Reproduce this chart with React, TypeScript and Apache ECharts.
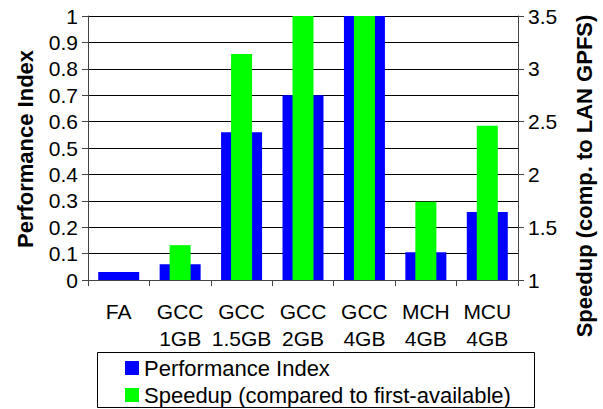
import React, { useEffect, useRef } from "react";
import * as echarts from "echarts";

const categories = ["FA", "GCC\n1GB", "GCC\n1.5GB", "GCC\n2GB", "GCC\n4GB", "MCH\n4GB", "MCU\n4GB"];
const performanceIndex = [0.03, 0.06, 0.56, 0.70, 1.0, 0.105, 0.258];
const speedup = [1.0, 1.33, 3.14, 3.5, 3.51, 1.74, 2.46];
const seriesNames = ["Performance Index", "Speedup (compared to first-available)"];

const FONT = "'Liberation Sans', Arial, sans-serif";

export default function App() {
  const ref = useRef<HTMLDivElement>(null);
  useEffect(() => {
    if (!ref.current) return;
    const chart = echarts.init(ref.current, null, { renderer: "svg" });
    const axisLine = { show: true, lineStyle: { color: "#444", width: 1 } };
    const axisTick = { show: true, length: 6, lineStyle: { color: "#444" } };
    chart.setOption({
      animation: false,
      backgroundColor: "#fff",
      textStyle: { fontFamily: FONT },
      grid: { left: 88, right: 85, top: 16, bottom: 129, containLabel: false },
      legend: {
        data: seriesNames,
        orient: "vertical",
        left: 125,
        top: 357,
        itemWidth: 14,
        itemHeight: 14,
        itemGap: 5,
        icon: "rect",
        padding: 0,
        textStyle: { fontSize: 22, color: "#000", fontFamily: FONT },
      },
      xAxis: [
        {
          type: "category",
          data: categories,
          axisLine,
          axisTick,
          axisLabel: {
            fontSize: 21,
            lineHeight: 27,
            margin: 18,
            color: "#000",
            fontFamily: FONT,
            interval: 0,
            verticalAlign: "top",
          },
        },
        { type: "category", data: categories, show: false },
      ],
      yAxis: [
        {
          type: "value",
          min: 0,
          max: 1,
          interval: 0.1,
          axisLine,
          axisTick,
          axisLabel: { fontSize: 21, margin: 10, color: "#000", fontFamily: FONT },
          splitLine: { show: true, lineStyle: { color: "#000", width: 1 } },
        },
        {
          type: "value",
          position: "right",
          min: 1,
          max: 3.5,
          interval: 0.5,
          startValue: 1,
          axisLine,
          axisTick,
          axisLabel: { fontSize: 21, margin: 10, color: "#000", fontFamily: FONT },
          splitLine: { show: false },
        },
      ],
      graphic: [
        {
          type: "rect",
          shape: { x: 97.5, y: 352.5, width: 437, height: 55 },
          style: { fill: "none", stroke: "#000", lineWidth: 1 },
          z: 0,
        },
        {
          type: "text",
          x: 25,
          y: 149,
          rotation: Math.PI / 2,
          style: {
            text: "Performance Index",
            font: `bold 22px ${FONT}`,
            fill: "#000",
            textAlign: "center",
            textVerticalAlign: "middle",
          },
        },
        {
          type: "text",
          x: 584,
          y: 176,
          rotation: Math.PI / 2,
          style: {
            text: "Speedup (comp. to LAN GPFS)",
            font: `bold 22px ${FONT}`,
            fill: "#000",
            textAlign: "center",
            textVerticalAlign: "middle",
          },
        },
      ],
      series: [
        {
          name: seriesNames[0],
          type: "bar",
          xAxisIndex: 0,
          yAxisIndex: 0,
          barWidth: 41,
          data: performanceIndex,
          itemStyle: { color: "#0000ff" },
        },
        {
          name: seriesNames[1],
          type: "bar",
          xAxisIndex: 1,
          yAxisIndex: 1,
          barWidth: 21,
          data: speedup,
          itemStyle: { color: "#00ff00" },
          clip: true,
        },
      ],
    });
    return () => chart.dispose();
  }, []);
  return <div ref={ref} style={{ position: "fixed", left: 0, top: 0, width: 603, height: 409 }} />;
}
